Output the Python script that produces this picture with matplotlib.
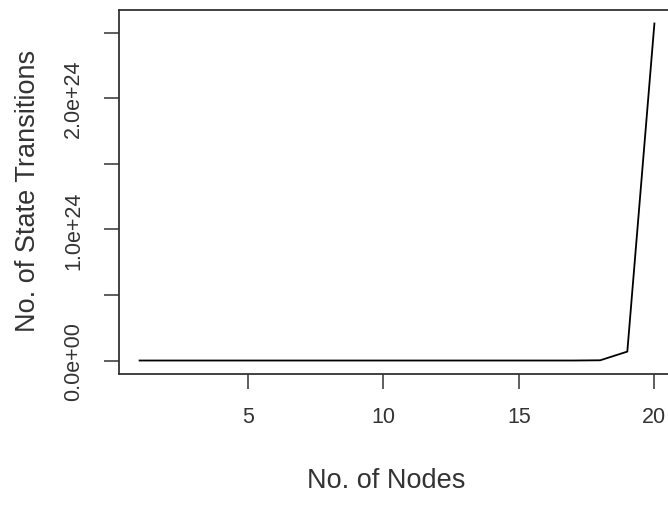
import numpy as np
import matplotlib
matplotlib.use('Agg')
import matplotlib.pyplot as plt

# node counts and the number of state transitions
nodes = list(range(1, 21))
transitions = [2, 12, 80, 6.0e2, 5.0e3, 4.5e4, 4.3e5, 4.5e6, 5.0e7, 5.8e8,
               7.0e9, 9.0e10, 1.2e12, 1.7e13, 2.5e14, 3.8e15, 6.0e16,
               1.8e21, 6.8e22, 2.57e24]

xticks = [5, 10, 15, 20]
yticks = [0, 0.5e24, 1.0e24, 1.5e24, 2.0e24, 2.5e24]
ytick_labels = ['0.0e+00', '', '1.0e+24', '', '2.0e+24', '']

plt.rcParams['font.family'] = ['Liberation Sans', 'DejaVu Sans']

fig = plt.figure(figsize=(6.68, 5.06), dpi=100)
ax = fig.add_axes([119 / 668, 131 / 506, 556 / 668, 364 / 506])

ax.plot(nodes, transitions, color='black', linewidth=1.3)

# R-style 4% padding on each side
xr = max(nodes) - min(nodes)
ax.set_xlim(min(nodes) - 0.04 * xr, max(nodes) + 0.04 * xr)
yr = max(transitions)
ax.set_ylim(-0.04 * yr, 1.04 * yr)

ax.set_xticks(xticks)
ax.set_yticks(yticks)
ax.set_yticklabels(ytick_labels, rotation=90, va='center')

ax.tick_params(direction='out', length=11, width=1.1, colors='#333333',
               labelsize=15.5, labelcolor='#333333')
ax.tick_params(axis='x', pad=12)
ax.tick_params(axis='y', pad=14)
for s in ax.spines.values():
    s.set_linewidth(1.3)
    s.set_color('#333333')

ax.set_xlabel('No. of Nodes', fontsize=19.5, color='#333333', va='center')
ax.set_ylabel('No. of State Transitions', fontsize=19.5, color='#333333', va='center')
ax.xaxis.set_label_coords(0.5 - 11 / 556, -0.29)
ax.yaxis.set_label_coords(-0.164, 0.5 + 2 / 364)

fig.savefig('out.png', dpi=100)
